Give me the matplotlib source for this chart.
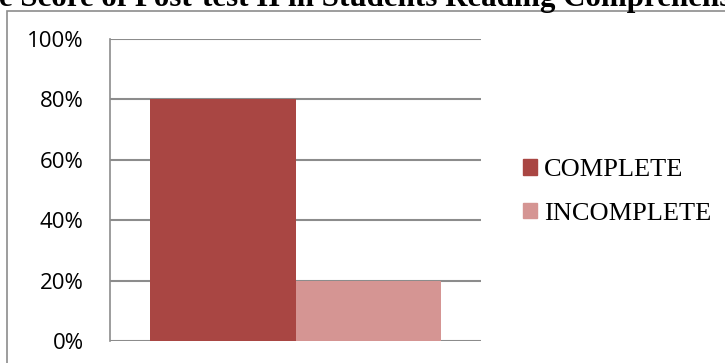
import matplotlib.pyplot as plt
from matplotlib.patches import Rectangle

title = "The Score of Post-test II in Students Reading Comprehension"
categories = ["COMPLETE", "INCOMPLETE"]
values = [0.80, 0.20]
colors = ["#A94643", "#D59593"]
yticks = [0, 0.2, 0.4, 0.6, 0.8, 1.0]
ytick_labels = ["0%", "20%", "40%", "60%", "80%", "100%"]

W, H = 725, 363
fig = plt.figure(figsize=(W / 100, H / 100), dpi=100)

# outer chart frame, clipped by the figure edges
fig.patches.append(Rectangle((7 / W, -0.1), 1.2, 1.1 - 10.5 / H,
                             transform=fig.transFigure, fill=False,
                             edgecolor="#8c8c8c", linewidth=1.2))

fig.text(367 / W, 1 - 6 / H, title, ha="center", va="baseline",
         fontsize=22.3, fontweight="bold", family="Liberation Serif")

ax = fig.add_axes([110 / W, 1 - 341 / H, (481 - 110) / W, (341 - 39) / H])
bars = ax.bar(range(len(values)), values, width=1.0, color=colors,
              label=categories, zorder=2)
ax.set_xlim(-0.5 - 40 / 145.5, 1.5 + 40 / 145.5)
ax.set_ylim(0, 1)
ax.set_yticks(yticks)
ax.set_yticklabels(ytick_labels, family="Open Sans", fontsize=16)
ax.set_xticks([])
ax.tick_params(axis="y", length=0, pad=19)
ax.yaxis.grid(True, color="#8c8c8c", linewidth=1.5, zorder=0)
ax.set_axisbelow(True)
for side in ["top", "right", "bottom"]:
    ax.spines[side].set_visible(False)
ax.spines["left"].set_color("#8c8c8c")
ax.spines["left"].set_linewidth(1.2)

handles = [Rectangle((0, 0), 1, 1, color=c) for c in colors]
fig.legend(handles, categories, loc="center left",
           bbox_to_anchor=(505 / W, 1 - 192 / H), frameon=False,
           prop={"family": "Liberation Serif", "size": 19},
           handlelength=0.52, handleheight=0.52, handletextpad=0.25,
           labelspacing=0.8, borderpad=0.2)

plt.savefig("out.png", dpi=100)
